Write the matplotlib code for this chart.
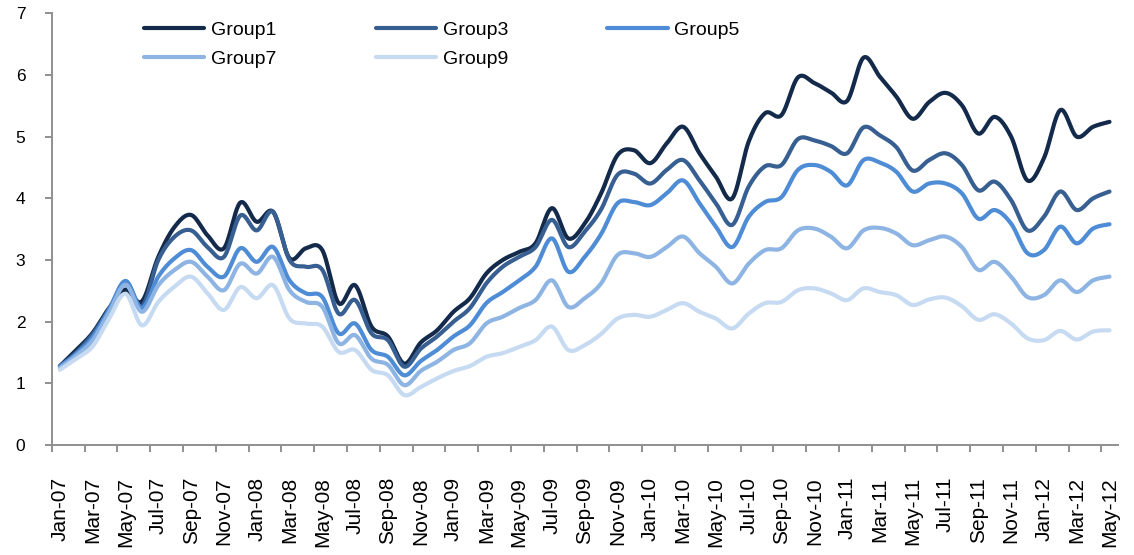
import numpy as np
import matplotlib
matplotlib.use("Agg")
import matplotlib.pyplot as plt

plt.rcParams['font.family'] = ['Liberation Sans', 'DejaVu Sans']

# ---- data ----
years = ['07', '08', '09', '10', '11', '12']
month_names = ['Jan', 'Feb', 'Mar', 'Apr', 'May', 'Jun', 'Jul', 'Aug', 'Sep', 'Oct', 'Nov', 'Dec']
months = [f"{m}-{y}" for y in years for m in month_names][:65]  # Jan-07 .. May-12

group1 = [1.28, 1.54, 1.82, 2.22, 2.52, 2.33, 3.05, 3.54, 3.73, 3.40, 3.19, 3.93,
          3.62, 3.78, 3.03, 3.19, 3.16, 2.30, 2.59, 1.92, 1.76, 1.32, 1.66, 1.86,
          2.16, 2.38, 2.78, 3.00, 3.13, 3.27, 3.84, 3.35, 3.59, 4.08, 4.70, 4.78,
          4.57, 4.89, 5.16, 4.73, 4.35, 4.00, 4.92, 5.38, 5.35, 5.96, 5.87, 5.72,
          5.58, 6.28, 5.97, 5.65, 5.29, 5.56, 5.71, 5.51, 5.05, 5.32, 5.00, 4.29,
          4.65, 5.43, 5.00, 5.16, 5.24]
group3 = [1.28, 1.50, 1.80, 2.20, 2.65, 2.25, 3.00, 3.38, 3.48, 3.21, 3.05, 3.72,
          3.48, 3.78, 3.00, 2.89, 2.84, 2.13, 2.35, 1.81, 1.70, 1.27, 1.56, 1.76,
          2.00, 2.22, 2.62, 2.89, 3.05, 3.21, 3.65, 3.21, 3.46, 3.82, 4.38, 4.40,
          4.24, 4.46, 4.62, 4.29, 3.92, 3.57, 4.19, 4.52, 4.54, 4.96, 4.94, 4.85,
          4.73, 5.15, 5.02, 4.83, 4.45, 4.62, 4.73, 4.54, 4.13, 4.27, 3.97, 3.48,
          3.70, 4.11, 3.81, 4.00, 4.11]
group5 = [1.27, 1.48, 1.75, 2.20, 2.66, 2.22, 2.73, 3.03, 3.16, 2.89, 2.73, 3.19,
          2.97, 3.21, 2.67, 2.46, 2.40, 1.81, 1.97, 1.54, 1.43, 1.13, 1.36, 1.54,
          1.76, 1.94, 2.30, 2.48, 2.67, 2.89, 3.35, 2.81, 3.05, 3.42, 3.92, 3.94,
          3.89, 4.08, 4.29, 3.92, 3.54, 3.21, 3.70, 3.94, 4.02, 4.46, 4.54, 4.43,
          4.21, 4.62, 4.58, 4.43, 4.11, 4.24, 4.24, 4.08, 3.67, 3.81, 3.59, 3.11,
          3.16, 3.54, 3.27, 3.51, 3.58]
group7 = [1.25, 1.45, 1.70, 2.15, 2.60, 2.16, 2.59, 2.84, 2.97, 2.73, 2.51, 2.94,
          2.78, 3.05, 2.51, 2.32, 2.24, 1.65, 1.78, 1.40, 1.30, 0.97, 1.20, 1.35,
          1.54, 1.65, 1.97, 2.08, 2.22, 2.35, 2.67, 2.24, 2.38, 2.62, 3.08, 3.11,
          3.05, 3.21, 3.38, 3.11, 2.89, 2.62, 2.94, 3.16, 3.19, 3.48, 3.51, 3.38,
          3.19, 3.48, 3.52, 3.43, 3.24, 3.32, 3.38, 3.21, 2.84, 2.97, 2.73, 2.40,
          2.43, 2.67, 2.48, 2.67, 2.73]
group9 = [1.22, 1.40, 1.60, 2.05, 2.45, 1.94, 2.32, 2.57, 2.73, 2.46, 2.19, 2.56,
          2.38, 2.59, 2.05, 1.97, 1.92, 1.51, 1.54, 1.22, 1.13, 0.81, 0.94, 1.08,
          1.20, 1.28, 1.43, 1.49, 1.59, 1.70, 1.92, 1.54, 1.62, 1.80, 2.05, 2.11,
          2.08, 2.19, 2.30, 2.16, 2.05, 1.89, 2.13, 2.30, 2.32, 2.51, 2.54, 2.46,
          2.35, 2.54, 2.48, 2.43, 2.27, 2.36, 2.39, 2.25, 2.03, 2.12, 1.97, 1.73,
          1.70, 1.85, 1.71, 1.84, 1.86]

series_names = ['Group1', 'Group3', 'Group5', 'Group7', 'Group9']
series_values = [group1, group3, group5, group7, group9]
colors = ['#132a4b', '#375f91', '#4e8cd6', '#8db4e3', '#c6daf2']


def smooth(x, y, n=24):
    """Catmull-Rom (Excel-like) smoothing for drawing only."""
    x = np.asarray(x, float)
    y = np.asarray(y, float)
    px = np.concatenate([[x[0]], x, [x[-1]]])
    py = np.concatenate([[y[0]], y, [y[-1]]])
    t = np.linspace(0, 1, n, endpoint=False)
    xs, ys = [], []
    for i in range(1, len(px) - 2):
        p0x, p1x, p2x, p3x = px[i - 1], px[i], px[i + 1], px[i + 2]
        p0y, p1y, p2y, p3y = py[i - 1], py[i], py[i + 1], py[i + 2]
        c1x, c1y = p1x + (p2x - p0x) / 6, p1y + (p2y - p0y) / 6
        c2x, c2y = p2x - (p3x - p1x) / 6, p2y - (p3y - p1y) / 6
        b0 = (1 - t) ** 3
        b1 = 3 * (1 - t) ** 2 * t
        b2 = 3 * (1 - t) * t ** 2
        b3 = t ** 3
        xs.append(b0 * p1x + b1 * c1x + b2 * c2x + b3 * p2x)
        ys.append(b0 * p1y + b1 * c1y + b2 * c2y + b3 * p2y)
    xs.append([x[-1]])
    ys.append([y[-1]])
    return np.concatenate(xs), np.concatenate(ys)


W, H = 1134, 555
fig = plt.figure(figsize=(W / 100, H / 100), dpi=100)
ax = fig.add_axes([51.7 / W, 110 / H, (1117.7 - 51.7) / W, (445 - 13.3) / H])

xpos = np.arange(len(months)) + 0.5
handles = {}
for name, vals, c in zip(series_names, series_values, colors):
    sx, sy = smooth(xpos, vals)
    ln, = ax.plot(sx, sy, color=c, lw=3.0, label=name, solid_capstyle='round',
                  solid_joinstyle='round', clip_on=False)
    handles[name] = ln

ax.set_xlim(0, len(months))
ax.set_ylim(0, 7)

for s in ['top', 'right']:
    ax.spines[s].set_visible(False)
for s in ['left', 'bottom']:
    ax.spines[s].set_color('#8f8f8f')
    ax.spines[s].set_linewidth(1.4)

ax.set_yticks(range(0, 8))
ax.tick_params(axis='y', direction='out', length=5, width=1.4, color='#8f8f8f',
               labelsize=12.5, pad=14, labelcolor='black')

ax.set_xticks(np.arange(0, len(months), 2))
ax.set_xticklabels([])
ax.tick_params(axis='x', which='major', direction='out', length=5, width=1.4, color='#8f8f8f')
ax.set_xticks(xpos[::2], minor=True)
ax.set_xticklabels(months[::2], minor=True, rotation=90, fontsize=15, va='top', ha='center')
ax.tick_params(axis='x', which='minor', length=0, pad=23)

# row-wise legend order: Group1 Group3 Group5 / Group7 Group9
order = ['Group1', 'Group7', 'Group3', 'Group9', 'Group5']
leg = ax.legend([handles[k] for k in order], order, ncol=3, loc='upper left',
                bbox_to_anchor=(144 / W, (555 - 21) / H),
                bbox_transform=fig.transFigure, frameon=False, fontsize=14,
                handlelength=3.1, handletextpad=0.35, columnspacing=5.1,
                labelspacing=0.6, borderpad=0, borderaxespad=0)

fig.savefig('out.png', dpi=100)
